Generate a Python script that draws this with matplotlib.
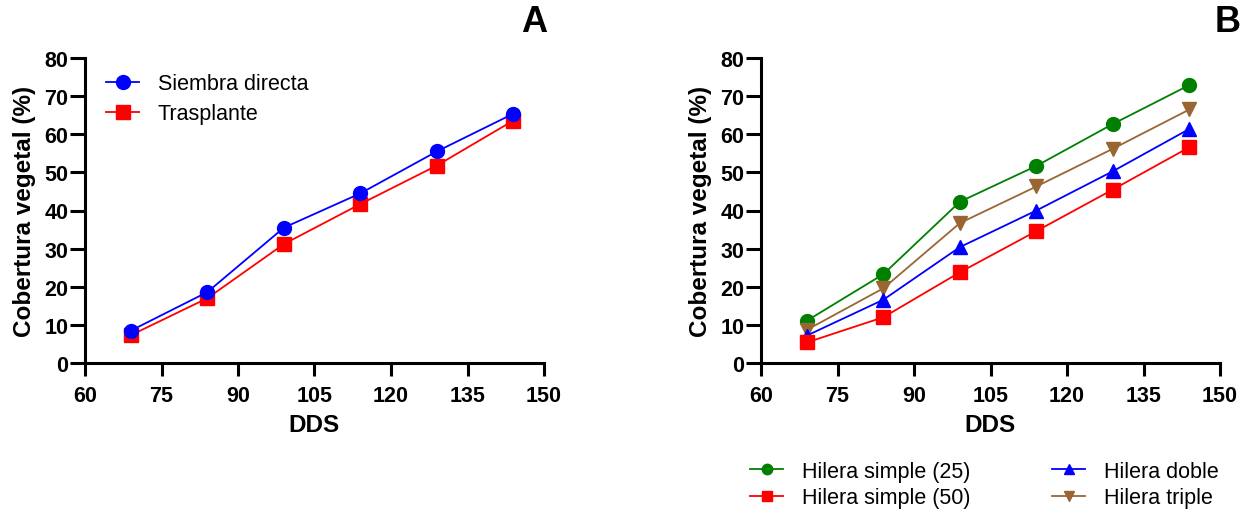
import numpy as np
import matplotlib
matplotlib.use('Agg')
import matplotlib.pyplot as plt

plt.rcParams['font.family'] = ['Liberation Sans', 'DejaVu Sans']

# data (days after sowing)
dds = [69, 84, 99, 114, 129, 144]

# panel A
siembra_directa = [8.5, 18.6, 35.5, 44.5, 55.5, 65.4]
trasplante = [7.3, 17.0, 31.2, 41.7, 51.8, 63.6]

# panel B
hs25 = [11.1, 23.3, 42.3, 51.7, 62.7, 72.9]
hs50 = [5.4, 12.0, 23.8, 34.6, 45.5, 56.6]
h_doble = [7.2, 16.6, 30.4, 40.0, 50.3, 61.4]
h_triple = [8.7, 19.6, 36.7, 46.3, 56.2, 66.5]

xticks = [60, 75, 90, 105, 120, 135, 150]
yticks = [0, 10, 20, 30, 40, 50, 60, 70, 80]

W, H = 1250, 510
fig = plt.figure(figsize=(W/100, H/100), dpi=100)

def px_axes(left, right, top, bottom):
    return fig.add_axes([left/W, 1-bottom/H, (right-left)/W, (bottom-top)/H])

def style(ax):
    ax.set_xlim(60, 150)
    ax.set_ylim(0, 80)
    ax.set_xticks(xticks)
    ax.set_yticks(yticks)
    for s in ['top', 'right']:
        ax.spines[s].set_visible(False)
    for s in ['left', 'bottom']:
        ax.spines[s].set_linewidth(2.2)
    ax.tick_params(axis='x', length=9, width=2.2, pad=7, labelsize=15.5)
    ax.tick_params(axis='y', length=10.5, width=2.2, pad=1.5, labelsize=15.5)
    for lab in ax.get_xticklabels() + ax.get_yticklabels():
        lab.set_fontweight('bold')
    ax.set_xlabel('DDS', fontsize=17.5, fontweight='bold', labelpad=5)
    ax.set_ylabel('Cobertura vegetal (%)', fontsize=17.5, fontweight='bold', labelpad=6)
    for sp in ax.spines.values():
        sp.set_clip_on(False)

kw = dict(lw=1.3, markersize=10, clip_on=False)

# Panel A
axA = px_axes(85, 544, 59, 364)
axA.plot(dds, siembra_directa, color='#0000FF', marker='o', label='Siembra directa', zorder=4, **kw)
axA.plot(dds, trasplante, color='#FF0000', marker='s', label='Trasplante', zorder=3, **kw)
style(axA)
axA.legend(loc='upper left', bbox_to_anchor=(0.046, 0.95), frameon=False, borderpad=0,
           borderaxespad=0, fontsize=15.5, handlelength=1.55, handletextpad=0.85,
           labelspacing=0.42)

# Panel B
axB = px_axes(761, 1220, 59, 364)
l1, = axB.plot(dds, hs25, color='#008000', marker='o', label='Hilera simple (25)', **kw)
l4, = axB.plot(dds, h_triple, color='#996633', marker='v', label='Hilera triple', **kw)
l3, = axB.plot(dds, h_doble, color='#0000FF', marker='^', label='Hilera doble', **kw)
l2, = axB.plot(dds, hs50, color='#FF0000', marker='s', label='Hilera simple (50)', **kw)
style(axB)
fig.legend(handles=[l1, l2, l3, l4], loc='upper left', bbox_to_anchor=(750/W, 1-462/H),
           ncol=2, frameon=False, borderpad=0, borderaxespad=0, fontsize=15.5,
           handlelength=1.55, handletextpad=0.85, labelspacing=0.25, columnspacing=3.8,
           markerscale=0.75)

fig.text(534/W, 1-23/H, 'A', fontsize=26, fontweight='bold', ha='center', va='center')
fig.text(1228/W, 1-23/H, 'B', fontsize=26, fontweight='bold', ha='center', va='center')

fig.savefig('out.png', dpi=100)
